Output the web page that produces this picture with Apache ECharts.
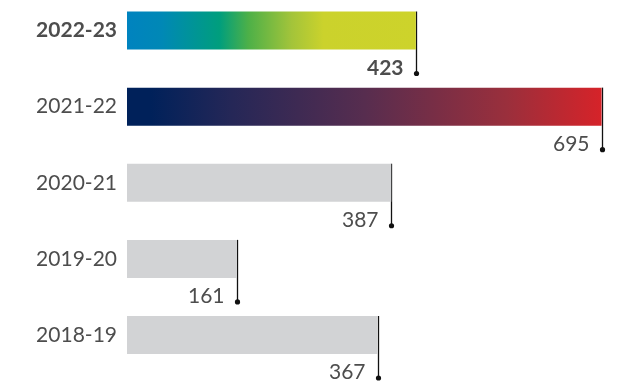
<!DOCTYPE html>
<html>
<head>
<meta charset="utf-8">
<script src="https://cdn.jsdelivr.net/npm/echarts@6/dist/echarts.min.js"></script>
<style>
  html, body { margin: 0; padding: 0; background: #fff; }
  #chart { width: 633px; height: 387px; }
</style>
</head>
<body>
<div id="chart"></div>
<script>
// Season labels, top to bottom
const seasons = ['2022-23', '2021-22', '2020-21', '2019-20', '2018-19'];
// Totals per season
const totals = [423, 695, 387, 161, 367];
// Which season is highlighted (bold label)
const highlight = '2022-23';

const textColor = '#4d4d4d';
const fontFamily = 'Lato, "Open Sans", sans-serif';
const fontSize = 21;

const fills = [
  new echarts.graphic.LinearGradient(0, 0, 1, 0, [
    { offset: 0, color: '#0083bf' },
    { offset: 0.12, color: '#0088b6' },
    { offset: 0.32, color: '#009e7d' },
    { offset: 0.42, color: '#4db048' },
    { offset: 0.57, color: '#a3c43a' },
    { offset: 0.68, color: '#cbd22c' },
    { offset: 1, color: '#cdd32b' }
  ]),
  new echarts.graphic.LinearGradient(0, 0, 1, 0, [
    { offset: 0, color: '#00215a' },
    { offset: 0.05, color: '#00215a' },
    { offset: 0.22, color: '#252757' },
    { offset: 0.5, color: '#572d4f' },
    { offset: 0.8, color: '#9a2f3c' },
    { offset: 1, color: '#d62329' }
  ]),
  '#d2d3d5', '#d2d3d5', '#d2d3d5'
];

const chart = echarts.init(document.getElementById('chart'), null, { renderer: 'canvas' });

chart.setOption({
  animation: false,
  // category centres sit on the grid edges (boundaryGap: false)
  grid: { left: 127, top: 30.5, width: 478, height: 304.5, containLabel: false },
  xAxis: {
    type: 'value', min: 0, max: 700,
    show: false
  },
  yAxis: {
    type: 'category',
    data: seasons,
    inverse: true,
    boundaryGap: false,
    axisLine: { show: false },
    axisTick: { show: false },
    splitLine: { show: false },
    axisLabel: {
      margin: 10,
      fontSize: fontSize,
      fontFamily: fontFamily,
      color: textColor,
      formatter: v => v === highlight ? '{b|' + v + '}' : v,
      rich: { b: { fontWeight: 'bold', fontSize: fontSize, fontFamily: fontFamily, color: textColor } }
    }
  },
  series: [
    {
      type: 'bar',
      barWidth: 38,
      data: totals.map((v, i) => ({ value: v, itemStyle: { color: fills[i] } })),
      silent: true
    },
    {
      // leader line, end dot and value label under each bar
      type: 'custom',
      silent: true,
      data: totals.map((v, i) => [v, i]),
      renderItem: (params, api) => {
        const p = api.coord([api.value(0), api.value(1)]);
        const half = 19;
        const x = Math.round(p[0]) + 0.5;
        const top = p[1] - half;
        const dotY = p[1] + half + 24;
        const bold = seasons[params.dataIndex] === highlight;
        return {
          type: 'group',
          children: [
            { type: 'line', shape: { x1: x, y1: top, x2: x, y2: dotY },
              style: { stroke: '#111', lineWidth: 1.3 } },
            { type: 'circle', shape: { cx: x, cy: dotY, r: 2.6 },
              style: { fill: '#111' } },
            { type: 'text',
              style: {
                x: x - 13, y: p[1] + half + 18.5,
                text: String(api.value(0)),
                align: 'right', verticalAlign: 'middle',
                fontSize: fontSize, fontFamily: fontFamily,
                fontWeight: bold ? 'bold' : 'normal',
                fill: textColor
              } }
          ]
        };
      }
    }
  ]
});
</script>
</body>
</html>
